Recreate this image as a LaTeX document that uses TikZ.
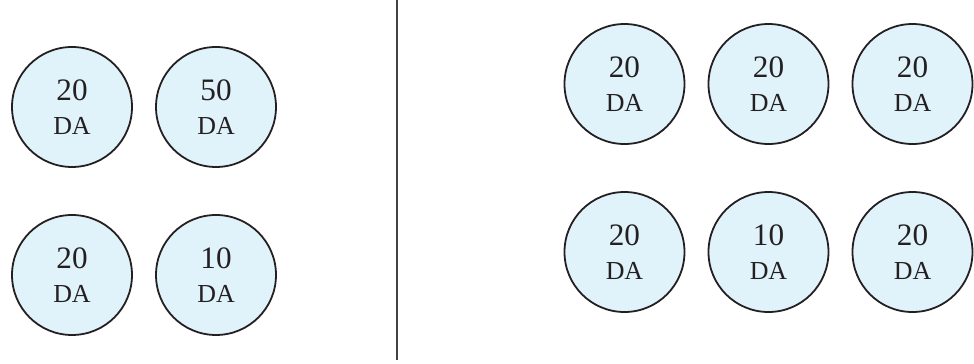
\documentclass[tikz,border=0pt]{standalone}
\usepackage{fontspec}
\setmainfont{Liberation Serif}
\usepackage{xcolor}
\usepackage{tikz}
\usetikzlibrary{positioning}
\definecolor{CoinColor}{rgb}{0.88,0.95,0.98}
\definecolor{InkColor}{rgb}{0.14,0.12,0.13}
\tikzset{
    coin/.style={
        circle,
        minimum size=2.0cm,
        inner sep=0pt,
        outer sep=0pt,
        align=center,
        draw=InkColor,
        fill=CoinColor,
        line width=0.85pt,
        text=InkColor,
        font=\fontsize{12.3}{16}\selectfont
    },
    divider/.style={draw=InkColor!85, line width=0.8pt}
}
\newcommand{\coinval}[1]{{\fontsize{14.8}{16}\selectfont #1}\\DA}

\begin{document}
\begin{tikzpicture}[node distance=0.4cm]

\useasboundingbox (0,0) rectangle (16.233,6.05);

% Left side
\node[coin] (n_la) at (1.2, 4.267) {\coinval{20}};
\node[coin, right=0.4cm of n_la] (n_lb) {\coinval{50}};
\node[coin, below=0.8cm of n_la] (n_lc) {\coinval{20}};
\node[coin, right=0.4cm of n_lc] (n_ld) {\coinval{10}};

% Divider
\coordinate (d_top) at (6.617, 6.05);
\coordinate (d_bot) at (6.617, 0.05);
\draw[divider] (d_top) -- (d_bot);

% Right side
\node[coin] (n_ra) at (10.408, 4.65) {\coinval{20}};
\node[coin, right=0.4cm of n_ra] (n_rb) {\coinval{20}};
\node[coin, right=0.4cm of n_rb] (n_rc) {\coinval{20}};
\node[coin, below=0.8cm of n_ra] (n_rd) {\coinval{20}};
\node[coin, right=0.4cm of n_rd] (n_re) {\coinval{10}};
\node[coin, right=0.4cm of n_re] (n_rf) {\coinval{20}};

\end{tikzpicture}
\end{document}
